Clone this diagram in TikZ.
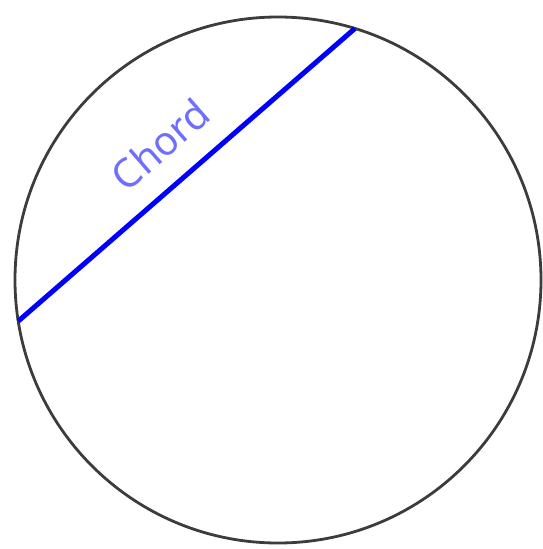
\documentclass[tikz,border=0pt]{standalone}
\usepackage{fontspec}
\setsansfont{Noto Sans}
\usetikzlibrary{calc}
\definecolor{rimGray}{RGB}{60, 60, 60}
\definecolor{chordBlue}{RGB}{0, 0, 255}
\definecolor{labelBlue}{RGB}{110, 110, 255}

\begin{document}
\begin{tikzpicture}[x=1pt, y=-1pt,
        rim/.style={draw=rimGray, line width=2.8pt},
        chordline/.style={draw=chordBlue, line width=5pt},
        chordlabel/.style={text=labelBlue, font=\sffamily\fontsize{40pt}{44pt}\selectfont, inner sep=0pt}]
    \useasboundingbox (0,0) rectangle (542,549);
    \coordinate (O) at (278,280);
    \draw[rim] (O) circle[radius=263];
    % end points of the chord on the rim
    \coordinate (A) at ($(O)+(189:263 and -263)$);
    \coordinate (B) at ($(O)+(73:263 and -263)$);
    \draw[chordline] (A) -- (B) node[chordlabel, midway, sloped, yshift=40pt] (lbl) {Chord};
\end{tikzpicture}
\end{document}
